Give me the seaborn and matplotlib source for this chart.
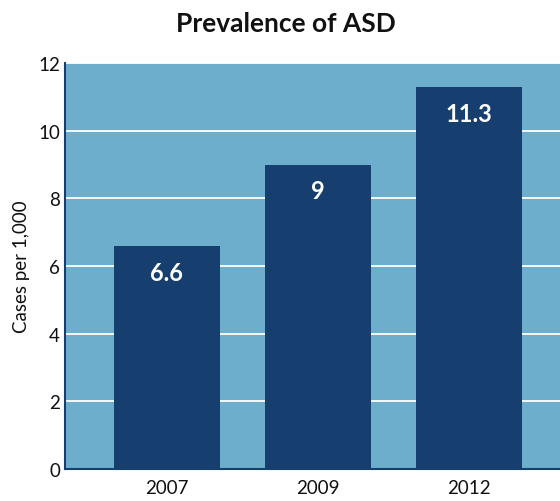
"""
Prevalence of ASD bar chart.
"""

import matplotlib.pyplot as plt
import pandas as pd
import seaborn as sns

years = ["2007", "2009", "2012"]
cases = [6.6, 9, 11.3]
value_labels = ["6.6", "9", "11.3"]
y_ticks = [0, 2, 4, 6, 8, 10, 12]

BG = "#6caecb"
BAR = "#163e6e"


def main():
    sns.set_theme(style="white")
    plt.rcParams["font.family"] = ["Lato", "DejaVu Sans"]

    df = pd.DataFrame({"year": years, "cases": cases})

    fig = plt.figure(figsize=(5.6, 5.02), dpi=100)
    ax = fig.add_axes([0.116, 0.0637, 0.884, 0.8088])
    ax.set_facecolor(BG)

    sns.barplot(data=df, x="year", y="cases", color=BAR, width=0.7,
                saturation=1, linewidth=0, edgecolor=BAR, ax=ax, zorder=3)

    ax.set_ylim(0, 12)
    ax.set_xlim(-0.675, 2.603)
    ax.set_yticks(y_ticks)
    ax.yaxis.grid(True, color="white", linewidth=1.3, zorder=1)
    ax.set_axisbelow(True)

    for i, (v, lab) in enumerate(zip(cases, value_labels)):
        ax.annotate(lab, (i, v), xytext=(0, -19), textcoords="offset points",
                    ha="center", va="center", color="white",
                    fontsize=17, fontweight="bold")

    for s in ["top", "right"]:
        ax.spines[s].set_visible(False)
    for s in ["left", "bottom"]:
        ax.spines[s].set_color(BAR)
        ax.spines[s].set_linewidth(1.5)

    ax.tick_params(axis="both", length=0, labelsize=13.5, colors="#111111")
    ax.tick_params(axis="x", pad=7)
    ax.set_xlabel("")
    ax.set_ylabel("Cases per 1,000", fontsize=13.5, color="#111111", labelpad=6)

    fig.text(0.51, 0.952, "Prevalence of ASD", ha="center", va="center",
             fontsize=19, fontweight="bold", color="#111111")

    fig.savefig("out.png", dpi=100)
    plt.close(fig)


if __name__ == "__main__":
    main()
